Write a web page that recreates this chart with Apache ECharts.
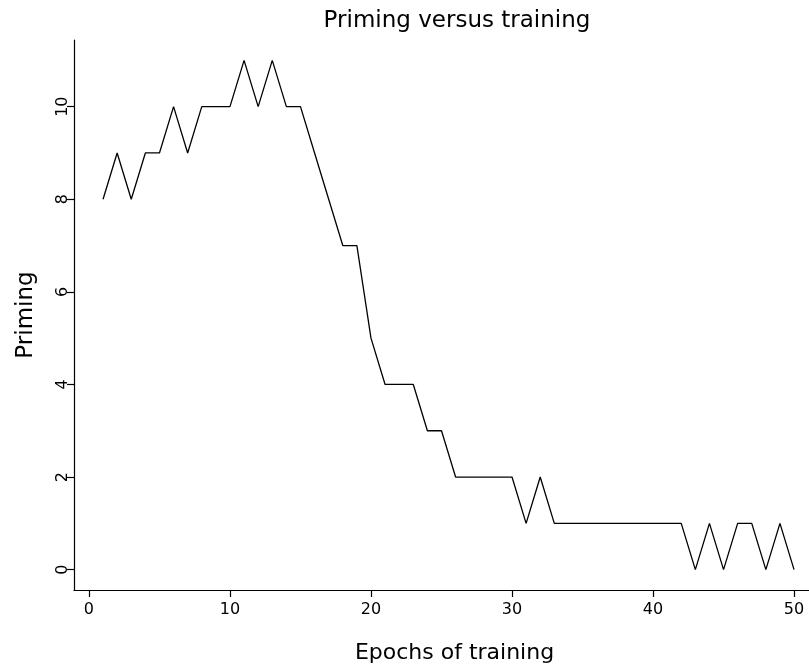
<!DOCTYPE html>
<html>
<head>
<meta charset="utf-8">
<script src="https://cdn.jsdelivr.net/npm/echarts@6/dist/echarts.min.js"></script>
<style>
html,body{margin:0;padding:0;background:#fff;}
#chart{width:809px;height:669px;}
</style>
</head>
<body>
<div id="chart"></div>
<script>
const epochs = [1,2,3,4,5,6,7,8,9,10,11,12,13,14,15,16,17,18,19,20,21,22,23,24,25,26,27,28,29,30,31,32,33,34,35,36,37,38,39,40,41,42,43,44,45,46,47,48,49,50];
const priming = [8,9,8,9,9,10,9,10,10,10,11,10,11,10,10,9,8,7,7,5,4,4,4,3,3,2,2,2,2,2,1,2,1,1,1,1,1,1,1,1,1,1,0,1,0,1,1,0,1,0];
const xTicks = [0,10,20,30,40,50];
const yTicks = [0,2,4,6,8,10];

const font = '"DejaVu Sans", "Liberation Sans", sans-serif';
const chart = echarts.init(document.getElementById('chart'), null, {renderer:'canvas'});
chart.setOption({
  backgroundColor:'#fff',
  animation:false,
  title:{
    text:'Priming versus training',
    left:452, top:5,
    textAlign:'center',
    textStyle:{fontFamily:font, fontSize:23, fontWeight:'normal', color:'#000'}
  },
  grid:{left:74, right:0, top:40, bottom:76.5, containLabel:false},
  xAxis:{
    type:'value', min:-1.06, max:51.06,
    name:'Epochs of training', nameLocation:'middle', nameGap:52,
    nameTextStyle:{fontFamily:font, fontSize:22, color:'#000', padding:[0,0,0,26]},
    axisLine:{show:true, onZero:false, lineStyle:{color:'#000', width:1.2}},
    axisTick:{show:true, inside:false, length:7, customValues:xTicks, lineStyle:{color:'#000', width:1.2}},
    axisLabel:{customValues:xTicks, margin:12, fontFamily:font, fontSize:16, color:'#000'},
    splitLine:{show:false}
  },
  yAxis:{
    type:'value', min:-0.44, max:11.44,
    name:'Priming', nameLocation:'middle', nameGap:36, nameRotate:90,
    nameTextStyle:{fontFamily:font, fontSize:23, color:'#000'},
    axisLine:{show:true, onZero:false, lineStyle:{color:'#000', width:1.2}},
    axisTick:{show:true, inside:false, length:7, customValues:yTicks, lineStyle:{color:'#000', width:1.2}},
    axisLabel:{customValues:yTicks, rotate:90, margin:3, fontFamily:font, fontSize:16, color:'#000'},
    splitLine:{show:false}
  },
  series:[{
    type:'line',
    data: epochs.map((e,i)=>[e, priming[i]]),
    showSymbol:false,
    symbol:'none',
    lineStyle:{color:'#000', width:1.3},
    itemStyle:{color:'#000'}
  }]
});
</script>
</body>
</html>
